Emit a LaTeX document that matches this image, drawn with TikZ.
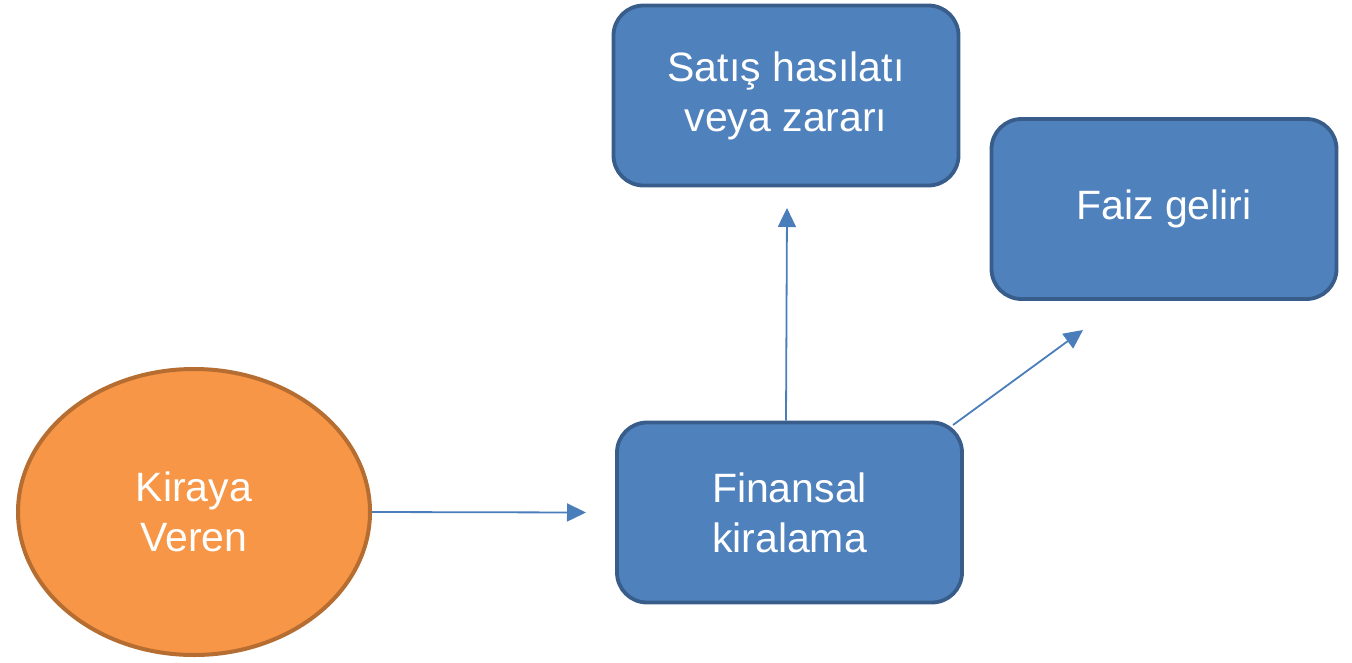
\documentclass[tikz,border=0pt]{standalone}
\usepackage{fontspec}
\setmainfont{Liberation Sans}
\usetikzlibrary{arrows.meta,shapes.geometric}
\definecolor{boxfill}{HTML}{4F81BD}
\definecolor{boxline}{HTML}{385D8A}
\definecolor{ovalfill}{HTML}{F79646}
\definecolor{ovalline}{HTML}{B66D31}
\definecolor{arrowcol}{HTML}{4A7EBB}
\tikzset{
  box/.style={draw=boxline, fill=boxfill, line width=3.8pt, rounded corners=30pt,
    minimum width=345pt, minimum height=180pt, text=white, align=center,
    font=\fontsize{41}{50}\selectfont, inner sep=0pt},
  oval/.style={draw=ovalline, fill=ovalfill, line width=4pt, ellipse,
    minimum width=352pt, minimum height=286pt, text=white, align=center,
    font=\fontsize{41}{50}\selectfont, inner sep=0pt},
  conn/.style={draw=arrowcol, line width=1.8pt, -{Triangle[length=19pt,width=18pt]}}
}
\begin{document}
\begin{tikzpicture}[x=1pt,y=-1pt]
\useasboundingbox (0,0) rectangle (1352,662);
\node[oval] (kv) at (194,512) {Kiraya\\Veren};
\node[box] (fin) at (789.5,512.5) {Finansal\\kiralama};
\node[box] (sat) at (786,95.5) {Satış hasılatı\\veya zararı};
\node[box] (faiz) at (1164,209) {Faiz geliri};
\coordinate (e1) at (586,512.5);
\coordinate (e2) at (787,208);
\coordinate (e3) at (1083,330);
\coordinate (s3) at (953,425);
\draw[conn] (kv.east) -- (e1);
\draw[conn] (fin.north -| 786,0) -- (e2);
\draw[conn] (s3) -- (e3);
\end{tikzpicture}
\end{document}
